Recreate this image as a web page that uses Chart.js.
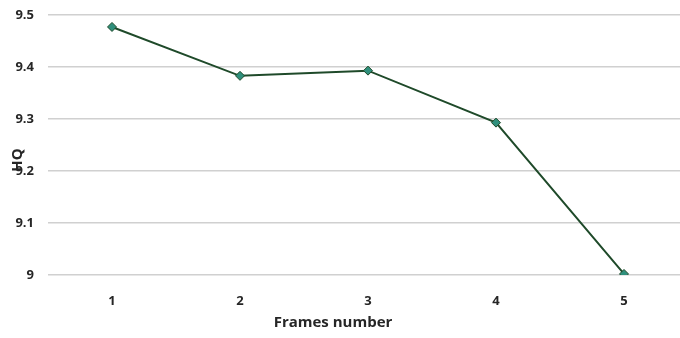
<!DOCTYPE html>
<html>
<head>
<meta charset="utf-8">
<script src="https://cdn.jsdelivr.net/npm/chart.js@4"></script>
<style>
  html, body { margin: 0; padding: 0; background: #fff; overflow: hidden; }
  #wrap { width: 692px; height: 338px; }
</style>
</head>
<body>
<div id="wrap"><canvas id="chart"></canvas></div>
<script>
const frames = ["1", "2", "3", "4", "5"];
const hqValues = [9.477, 9.383, 9.393, 9.293, 9.002];
const yTicks = [9, 9.1, 9.2, 9.3, 9.4, 9.5];

const textColor = "#262626";
const tickFont = { family: "Open Sans", size: 13, weight: "bold" };

// axis titles drawn by hand so they sit where the original has them
const axisTitles = {
  id: "axisTitles",
  afterDraw(chart) {
    const c = chart.ctx;
    c.save();
    c.fillStyle = textColor;
    c.font = "bold 15px 'Open Sans'";
    c.textAlign = "center";
    c.textBaseline = "middle";
    c.fillText("Frames number", 333, 323);
    c.translate(18, 160);
    c.rotate(-Math.PI / 2);
    c.fillText("HQ", 0, 0);
    c.restore();
  },
};

new Chart(document.getElementById("chart"), {
  type: "line",
  data: {
    labels: frames,
    datasets: [
      {
        label: "HQ",
        data: hqValues,
        borderColor: "#1f4a2a",
        borderWidth: 2,
        pointStyle: "rectRot",
        pointRadius: 4.5,
        pointBackgroundColor: "#2f8f7c",
        pointBorderColor: "#1f4a2a",
        pointBorderWidth: 1,
        tension: 0,
      },
    ],
  },
  options: {
    responsive: true,
    maintainAspectRatio: false,
    animation: false,
    layout: { autoPadding: false, padding: { top: 15, right: 4, bottom: 0, left: 0 } },
    plugins: {
      legend: { display: false },
      tooltip: { enabled: false },
    },
    scales: {
      x: {
        offset: true,
        grid: { display: false, drawTicks: false },
        border: { display: false },
        ticks: { color: textColor, font: tickFont, padding: 18 },
        afterFit(scale) {
          scale.height = 63;
          scale.paddingLeft = 0;
          scale.paddingRight = 0;
        },
      },
      y: {
        min: 9,
        max: 9.5,
        afterBuildTicks(scale) {
          scale.ticks = yTicks.map((v) => ({ value: v }));
        },
        grid: { color: "#d0d0d0", lineWidth: 1.5, drawTicks: false },
        border: { display: false },
        ticks: {
          color: textColor,
          font: tickFont,
          padding: 14,
          callback: (v) => String(Math.round(v * 10) / 10),
        },
        afterFit(scale) {
          scale.width = 48;
          scale.paddingTop = 0;
          scale.paddingBottom = 0;
        },
      },
    },
  },
  plugins: [axisTitles],
});
</script>
</body>
</html>
